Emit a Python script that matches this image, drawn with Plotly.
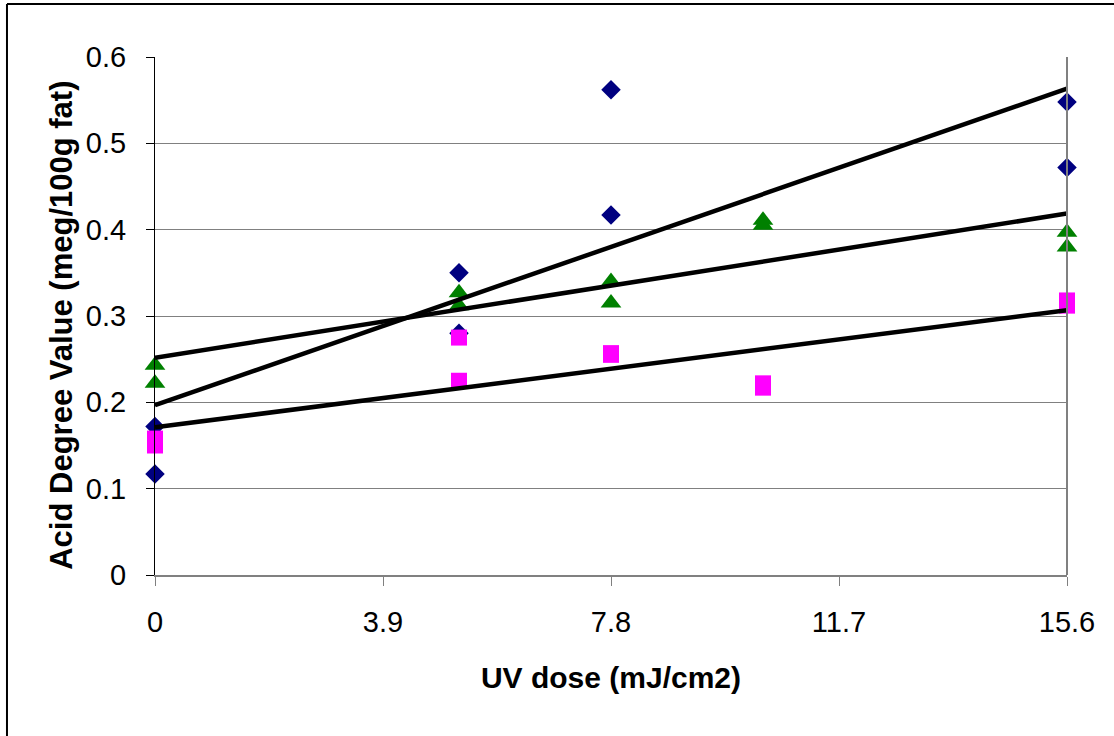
import numpy as np
import plotly.graph_objects as go

# UV dose (mJ/cm2) for each measurement
dose = [0, 0, 5.2, 5.2, 7.8, 7.8, 10.4, 10.4, 15.6, 15.6]

# Acid degree values (meq/100g fat)
blue_x = [0, 0, 5.2, 5.2, 7.8, 7.8, 15.6, 15.6]
blue_y = [0.172, 0.117, 0.350, 0.280, 0.562, 0.417, 0.548, 0.472]
green_x = dose
green_y = [0.243, 0.222, 0.327, 0.312, 0.340, 0.315, 0.411, 0.405, 0.397, 0.380]
pink_x = dose
pink_y = [0.158, 0.150, 0.275, 0.225, 0.257, 0.255, 0.222, 0.217, 0.318, 0.312]

x_ticks = [0, 3.9, 7.8, 11.7, 15.6]
x_tick_labels = ["0", "3.9", "7.8", "11.7", "15.6"]
y_ticks = [0, 0.1, 0.2, 0.3, 0.4, 0.5, 0.6]
y_tick_labels = ["0", "0.1", "0.2", "0.3", "0.4", "0.5", "0.6"]

series = [
    (blue_x, blue_y, "diamond", 15, "#000080"),
    (green_x, green_y, "triangle-up", 18, "#008000"),
    (pink_x, pink_y, "square", 16, "#FF00FF"),
]

fig = go.Figure()
for xs, ys, sym, sz, col in series:
    fig.add_trace(go.Scatter(x=xs, y=ys, mode="markers", cliponaxis=False,
                             marker=dict(symbol=sym, size=sz, color=col, line=dict(width=0)),
                             showlegend=False))
xe = np.array([0, 15.6])
for xs, ys, sym, sz, col in series:
    m, b = np.polyfit(np.array(xs), np.array(ys), 1)
    fig.add_trace(go.Scatter(x=xe, y=m * xe + b, mode="lines", cliponaxis=False,
                             line=dict(color="black", width=4.5), showlegend=False))

font = "Liberation Sans, Arial, sans-serif"
fig.update_layout(
    width=1114, height=736,
    margin=dict(l=155, r=47, t=57, b=161),
    paper_bgcolor="white", plot_bgcolor="white",
    font=dict(family=font, color="black"),
    xaxis=dict(range=[0, 15.6], tickvals=x_ticks, ticktext=x_tick_labels,
               showgrid=False, zeroline=False, showline=True, linecolor="#808080", linewidth=2,
               ticks="outside", ticklen=9, tickcolor="#808080", tickwidth=1,
               ticklabelstandoff=11,
               tickfont=dict(size=29, family=font),
               title=dict(text="<b>UV dose (mJ/cm2)</b>", font=dict(size=30, family=font), standoff=30)),
    yaxis=dict(range=[0, 0.6], tickvals=y_ticks, ticktext=y_tick_labels,
               showgrid=True, gridcolor="#808080", gridwidth=1, zeroline=False,
               showline=True, linecolor="black", linewidth=1,
               ticks="outside", ticklen=8, tickcolor="black", tickwidth=1,
               ticklabelstandoff=14,
               tickfont=dict(size=29, family=font)),
    annotations=[
        dict(text="<b>Acid Degree Value (meg/100g fat)</b>", xref="paper", yref="paper",
             x=-0.102, y=0.483, xanchor="center", yanchor="middle", textangle=-90,
             showarrow=False, font=dict(size=31, family=font, color="black")),
    ],
    shapes=[
        dict(type="line", xref="paper", yref="paper", x0=1, x1=1, y0=0, y1=1,
             line=dict(color="#808080", width=2)),
        dict(type="line", xref="paper", yref="paper", x0=-0.1623, x1=1.06, y0=1.1023, y1=1.1023,
             line=dict(color="black", width=2)),
        dict(type="line", xref="paper", yref="paper", x0=-0.1623, x1=-0.1623, y0=1.1023, y1=-0.32,
             line=dict(color="black", width=2)),
    ],
)

fig.write_html("out.html")
